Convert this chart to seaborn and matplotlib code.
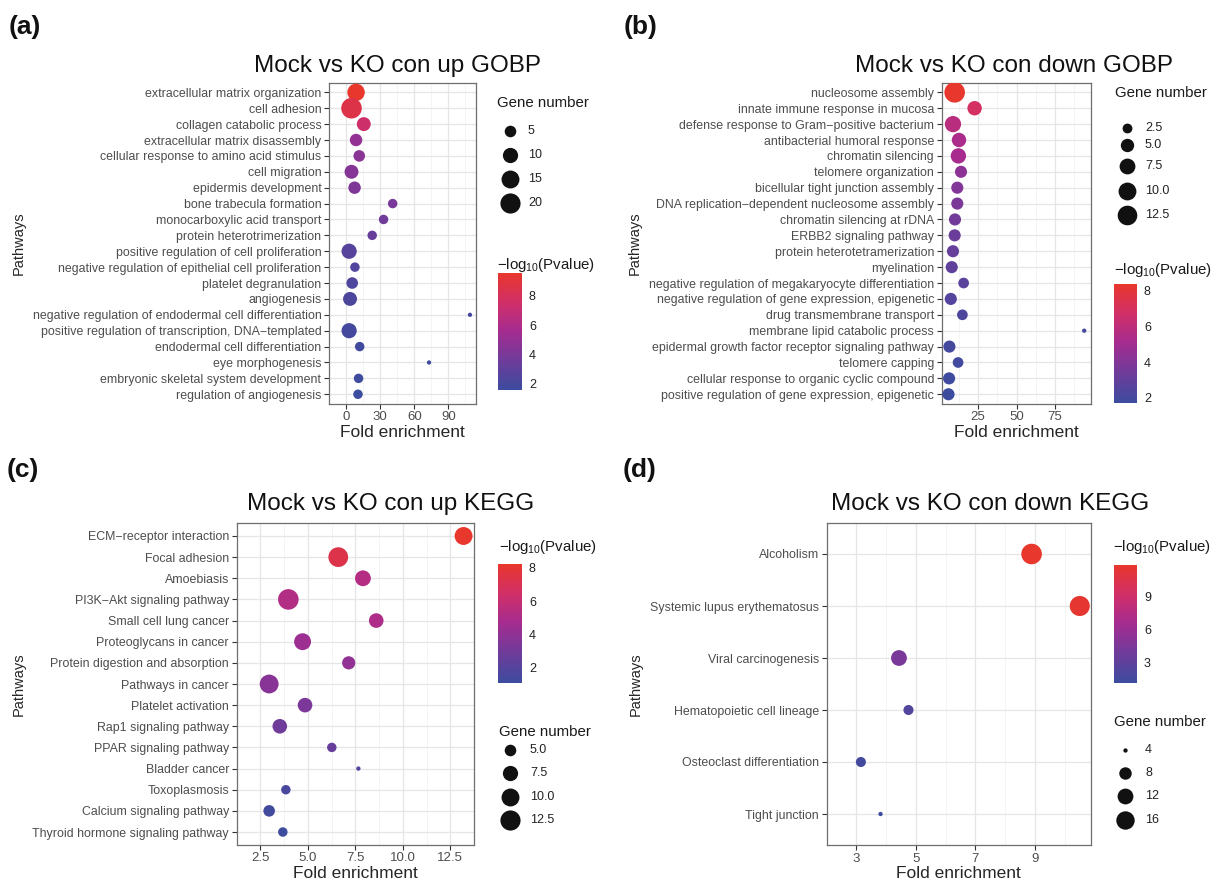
import numpy as np
import pandas as pd
import matplotlib
matplotlib.use("Agg")
import matplotlib.pyplot as plt
import seaborn as sns
from matplotlib.colors import LinearSegmentedColormap, Normalize
from matplotlib.colorbar import ColorbarBase

W, H, DPI = 1224, 881, 100
K_MM = 3.25   # px per ggplot size unit (mm)

# ---------------- data ----------------
# (a) Mock vs KO con up GOBP
a_terms = ["extracellular matrix organization", "cell adhesion", "collagen catabolic process",
           "extracellular matrix disassembly", "cellular response to amino acid stimulus",
           "cell migration", "epidermis development", "bone trabecula formation",
           "monocarboxylic acid transport", "protein heterotrimerization",
           "positive regulation of cell proliferation",
           "negative regulation of epithelial cell proliferation", "platelet degranulation",
           "angiogenesis", "negative regulation of endodermal cell differentiation",
           "positive regulation of transcription, DNA\u2212templated",
           "endodermal cell differentiation", "eye morphogenesis",
           "embryonic skeletal system development", "regulation of angiogenesis"]
a_fold = [8.8, 4.8, 15.6, 8.8, 11.6, 4.8, 7.5, 41.0, 33.0, 23.0,
          2.7, 7.8, 5.4, 3.5, 109.0, 2.7, 12.0, 73.0, 11.0, 10.5]
a_count = [14, 21, 8, 6, 5, 8, 6, 3, 3, 3, 10, 3, 5, 8, 1, 10, 3, 1, 3, 3]
a_logp = [9.57, 8.6, 7.4, 4.9, 4.6, 4.4, 4.2, 3.9, 3.6, 3.3,
          2.7, 2.4, 2.3, 2.2, 2.0, 1.9, 1.8, 1.7, 1.6, 1.54]

# (b) Mock vs KO con down GOBP
b_terms = ["nucleosome assembly", "innate immune response in mucosa",
           "defense response to Gram\u2212positive bacterium", "antibacterial humoral response",
           "chromatin silencing", "telomere organization", "bicellular tight junction assembly",
           "DNA replication\u2212dependent nucleosome assembly", "chromatin silencing at rDNA",
           "ERBB2 signaling pathway", "protein heterotetramerization", "myelination",
           "negative regulation of megakaryocyte differentiation",
           "negative regulation of gene expression, epigenetic", "drug transmembrane transport",
           "membrane lipid catabolic process",
           "epidermal growth factor receptor signaling pathway", "telomere capping",
           "cellular response to organic cyclic compound",
           "positive regulation of gene expression, epigenetic"]
b_fold = [10.0, 22.9, 8.9, 12.8, 12.4, 14.1, 11.7, 11.7, 10.2, 10.0,
          8.9, 8.1, 15.8, 7.5, 15.0, 93.8, 6.6, 12.2, 6.4, 6.0]
b_count = [14, 6, 8, 6, 7, 4, 4, 4, 4, 4, 4, 4, 3, 4, 3, 1, 4, 3, 4, 4]
b_logp = [8.37, 6.9, 5.8, 5.3, 5.2, 4.3, 4.0, 3.8, 3.5, 3.3,
          3.1, 2.9, 2.7, 2.5, 2.3, 2.1, 2.0, 1.9, 1.8, 1.72]

# (c) Mock vs KO con up KEGG
c_terms = ["ECM\u2212receptor interaction", "Focal adhesion", "Amoebiasis",
           "PI3K\u2212Akt signaling pathway", "Small cell lung cancer", "Proteoglycans in cancer",
           "Protein digestion and absorption", "Pathways in cancer", "Platelet activation",
           "Rap1 signaling pathway", "PPAR signaling pathway", "Bladder cancer",
           "Toxoplasmosis", "Calcium signaling pathway", "Thyroid hormone signaling pathway"]
c_fold = [13.2, 6.6, 7.9, 3.97, 8.6, 4.72, 7.15, 2.96, 4.85, 3.52, 6.26, 7.66, 3.84, 2.96, 3.68]
c_count = [10, 12, 8, 13, 7, 9, 6, 11, 7, 7, 4, 3, 4, 5, 4]
c_logp = [8.24, 7.3, 5.3, 5.2, 5.0, 4.4, 4.0, 3.7, 3.3, 2.9, 2.6, 1.8, 1.5, 1.3, 1.05]

# (d) Mock vs KO con down KEGG
d_terms = ["Alcoholism", "Systemic lupus erythematosus", "Viral carcinogenesis",
           "Hematopoietic cell lineage", "Osteoclast differentiation", "Tight junction"]
d_fold = [8.89, 10.51, 4.43, 4.75, 3.15, 3.81]
d_count = [20, 19, 12, 6, 6, 4]
d_logp = [11.85, 11.6, 4.3, 2.3, 1.5, 1.1]

cmap = LinearSegmentedColormap.from_list(
    "bluered", ["#3C4C9F", "#6E3C9A", "#A42C91", "#D12F68", "#E8372C"])

sns.set_theme(style="white")
plt.rcParams['font.family'] = ['Liberation Sans', 'DejaVu Sans']
plt.rcParams['mathtext.default'] = 'regular'

fig = plt.figure(figsize=(W / DPI, H / DPI), dpi=DPI)
fig.patch.set_facecolor("white")
over = fig.add_axes([0, 0, 1, 1], zorder=5)
over.set_xlim(0, W)
over.set_ylim(H, 0)
over.axis("off")
over.patch.set_alpha(0)


def px_axes(l, t, r, b):
    return fig.add_axes([l / W, 1 - b / H, (r - l) / W, (b - t) / H])


def diam(v, vmin, vmax):
    # ggplot: size range 1..6 on sqrt scale, plus the 0.5 stroke
    t = np.clip((np.asarray(v, float) - vmin) / (vmax - vmin), 0, 1)
    return K_MM * (1 + 5 * np.sqrt(t) + 0.33)


def area(v, vmin, vmax):
    return float((diam(v, vmin, vmax) * 72 / DPI) ** 2)


def dot_panel(box, terms, fold, count, logp, xticks, xfmt):
    ax = px_axes(*box)
    df = pd.DataFrame({"term": terms, "fold": fold, "count": count, "logp": logp})
    vmin, vmax = min(count), max(count)
    sizes = {c: area(c, vmin, vmax) for c in sorted(set(count))}
    sns.scatterplot(data=df, x="fold", y="term", hue="logp", size="count",
                    palette=cmap, hue_norm=(min(logp), max(logp)), sizes=sizes,
                    linewidth=0, legend=False, ax=ax, zorder=3)
    # ggplot-like expansion
    lo, hi = min(fold), max(fold)
    pad = (hi - lo) * 0.05
    ax.set_xlim(lo - pad, hi + pad)
    n = len(terms)
    ax.set_ylim(n - 0.4, -0.6)
    ax.set_xticks(xticks)
    ax.set_xticklabels([xfmt.format(v) for v in xticks])
    step = xticks[1] - xticks[0]
    minor = [xticks[0] - step / 2] + [v + step / 2 for v in xticks]
    ax.set_xticks(minor, minor=True)
    ax.grid(which="major", color="#E6E6E6", lw=0.9)
    ax.grid(which="minor", axis="x", color="#F0F0F0", lw=0.5)
    ax.set_axisbelow(True)
    for s in ax.spines.values():
        s.set_color("#6E6E6E")
        s.set_linewidth(0.9)
    ax.tick_params(axis="both", which="major", length=3.5, width=0.8, color="#333333",
                   bottom=True, left=True, labelcolor="#4D4D4D", pad=2)
    ax.tick_params(axis="both", which="minor", length=0)
    ax.tick_params(axis="y", labelsize=8.9)
    ax.tick_params(axis="x", labelsize=9.5)
    ax.set_xlabel("Fold enrichment", fontsize=12.5, labelpad=1)
    ax.set_ylabel("Pathways", fontsize=10.5, labelpad=5)
    return ax, vmin, vmax


def colorbar(box, lo, hi, ticks, title_xy):
    cax = px_axes(*box)
    cb = ColorbarBase(cax, cmap=cmap, norm=Normalize(lo, hi), orientation="vertical")
    cb.outline.set_visible(False)
    cb.set_ticks(ticks)
    cax.yaxis.set_ticks_position("both")
    cax.tick_params(which="major", direction="in", length=4.5, width=0.8, color="white",
                    labelsize=9, labelcolor="#222222", pad=5, labelleft=False, labelright=True)
    cax.tick_params(which="minor", length=0)
    over.text(title_xy[0], title_xy[1], "\u2212log$_{10}$(Pvalue)", fontsize=10.8,
              ha="left", va="center", color="#1A1A1A")


def size_legend(title_xy, mx, tx, ys, vals, vmin, vmax):
    over.text(title_xy[0], title_xy[1], "Gene number", fontsize=10.8,
              ha="left", va="center", color="#1A1A1A")
    for y, v in zip(ys, vals):
        over.scatter([mx], [y], s=area(v, vmin, vmax), color="#111111", linewidth=0)
        over.text(tx, y, str(v), fontsize=9, ha="left", va="center", color="#222222")


# (a)
ax_a, amin, amax = dot_panel((329, 82.8, 476, 403.8), a_terms, a_fold, a_count, a_logp,
                             [0, 30, 60, 90], "{:g}")
size_legend((497, 103), 510, 528, [131, 155, 179, 203], [5, 10, 15, 20], amin, amax)
colorbar((498, 273, 522, 390), min(a_logp), max(a_logp), [2, 4, 6, 8], (497, 265))

# (b)
ax_b, bmin, bmax = dot_panel((941.7, 82.8, 1091, 403.8), b_terms, b_fold, b_count, b_logp,
                             [25, 50, 75], "{:g}")
size_legend((1115, 93), 1127, 1145, [128, 145, 166, 191, 215], [2.5, 5.0, 7.5, 10.0, 12.5],
            bmin, bmax)
colorbar((1114, 284, 1137, 403), min(b_logp), max(b_logp), [2, 4, 6, 8], (1114, 270))

# (c)
ax_c, cmin, cmax = dot_panel((236.7, 523.3, 474, 844.7), c_terms, c_fold, c_count, c_logp,
                             [2.5, 5.0, 7.5, 10.0, 12.5], "{:.1f}")
colorbar((498, 564, 522, 683), min(c_logp), max(c_logp), [2, 4, 6, 8], (499, 547))
size_legend((499, 732), 510, 530, [750, 773, 797, 820], [5.0, 7.5, 10.0, 12.5], cmin, cmax)

# (d)
ax_d, dmin, dmax = dot_panel((826.7, 522.8, 1090.7, 845.2), d_terms, d_fold, d_count, d_logp,
                             [3, 5, 7, 9], "{:g}")
colorbar((1114, 565, 1137, 683), min(d_logp), max(d_logp), [3, 6, 9], (1113, 547))
size_legend((1114, 722), 1125, 1145, [750, 773, 796, 820], [4, 8, 12, 16], dmin, dmax)

# titles and panel letters
for x, y, t in [(398, 66, "Mock vs KO con up GOBP"), (1014, 66, "Mock vs KO con down GOBP"),
                (391, 504, "Mock vs KO con up KEGG"), (990, 504, "Mock vs KO con down KEGG")]:
    over.text(x, y, t, fontsize=17.5, ha="center", va="center", color="#111111")
for x, y, t in [(25, 27, "(a)"), (641, 27, "(b)"), (23, 470, "(c)"), (640, 470, "(d)")]:
    over.text(x, y, t, fontsize=19, fontweight="bold", ha="center", va="center",
              family=["Liberation Sans Narrow", "Liberation Sans"], color="#111111")

fig.savefig("out.png", dpi=DPI)
